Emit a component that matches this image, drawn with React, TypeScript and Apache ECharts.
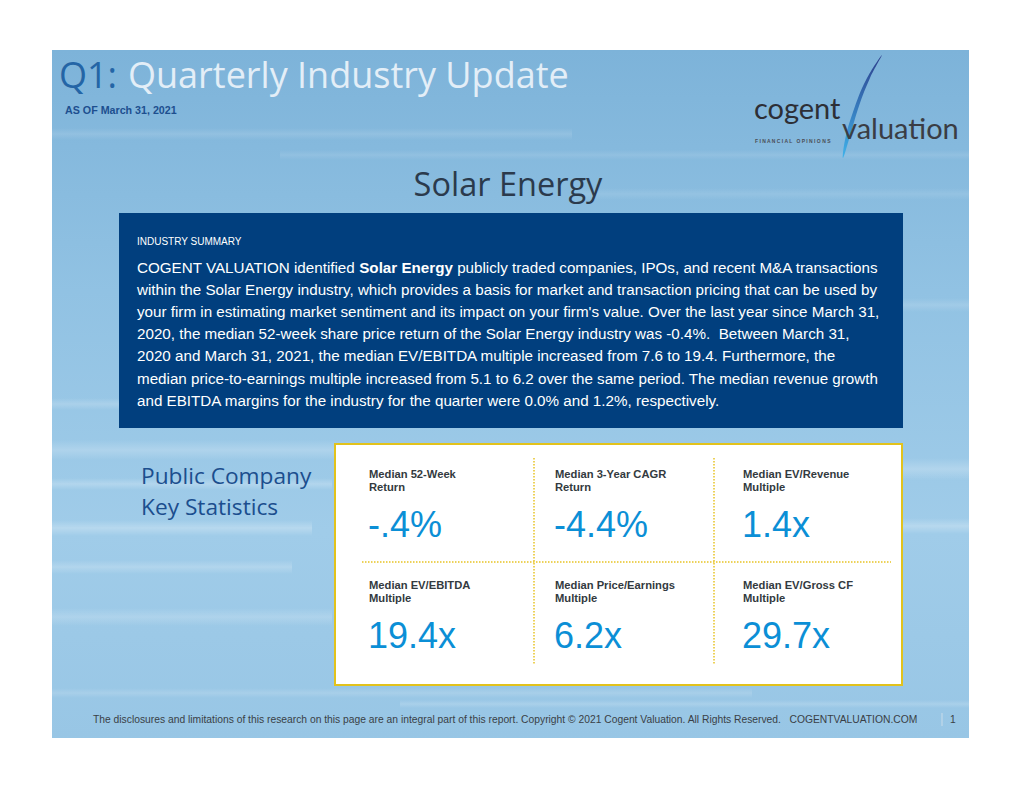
import React, { useEffect, useRef } from "react";
import * as echarts from "echarts";

const titleQuarter = "Q1:";
const titleText = "Quarterly Industry Update";
const asOfText = "AS OF March 31, 2021";
const industryName = "Solar Energy";
const summaryHeading = "INDUSTRY SUMMARY";
const summaryLines = [
  "COGENT VALUATION identified {b|Solar Energy} publicly traded companies, IPOs, and recent M&A transactions",
  "within the Solar Energy industry, which provides a basis for market and transaction pricing that can be used by",
  "your firm in estimating market sentiment and its impact on your firm's value. Over the last year since March 31,",
  "2020, the median 52-week share price return of the Solar Energy industry was -0.4%.  Between March 31,",
  "2020 and March 31, 2021, the median EV/EBITDA multiple increased from 7.6 to 19.4. Furthermore, the",
  "median price-to-earnings multiple increased from 5.1 to 6.2 over the same period. The median revenue growth",
  "and EBITDA margins for the industry for the quarter were 0.0% and 1.2%, respectively.",
];
const sectionTitle = ["Public Company", "Key Statistics"];
const statLabelLine1 = [
  "Median 52-Week",
  "Median 3-Year CAGR",
  "Median EV/Revenue",
  "Median EV/EBITDA",
  "Median Price/Earnings",
  "Median EV/Gross CF",
];
const statLabelLine2 = ["Return", "Return", "Multiple", "Multiple", "Multiple", "Multiple"];
const statValues = ["-.4", "-4.4", "1.4", "19.4", "6.2", "29.7"];
const statUnits = ["%", "%", "x", "x", "x", "x"];
const footerText =
  "The disclosures and limitations of this research on this page are an integral part of this report. Copyright © 2021 Cogent Valuation. All Rights Reserved.   COGENTVALUATION.COM";
const pageNumber = "1";

export default function App() {
  const ref = useRef<HTMLDivElement>(null);
  useEffect(() => {
    if (!ref.current) return;
    const chart = echarts.init(ref.current, null, { renderer: "svg" });
    const els: any[] = [];
    const bodyFont = "'Liberation Sans', Arial, sans-serif";
    const headFont = "'Open Sans', 'Noto Sans', sans-serif";

    // slide background
    els.push({
      type: "rect",
      shape: { x: 52, y: 50, width: 917, height: 688 },
      style: {
        fill: new echarts.graphic.LinearGradient(0, 0, 0, 1, [
          { offset: 0, color: "#7db3d9" },
          { offset: 0.35, color: "#91c2e3" },
          { offset: 0.7, color: "#a0cce9" },
          { offset: 1, color: "#98c6e5" },
        ]),
      },
    });
    // soft streaks
    const streaks = [
      [52, 128, 520, 12, 0.12], [280, 150, 689, 10, 0.1], [52, 440, 300, 20, 0.2],
      [52, 478, 280, 12, 0.22], [52, 520, 260, 16, 0.25], [52, 560, 240, 14, 0.2],
      [52, 608, 280, 18, 0.18], [900, 458, 69, 22, 0.22], [900, 518, 69, 16, 0.25],
      [52, 688, 700, 10, 0.14], [400, 700, 569, 8, 0.16], [52, 398, 70, 12, 0.18],
      [900, 298, 69, 14, 0.14], [580, 188, 389, 12, 0.1],
    ];
    streaks.forEach(([x, y, w, h, o]) =>
      els.push({
        type: "rect",
        shape: { x, y, width: w, height: h },
        style: {
          fill: new echarts.graphic.LinearGradient(0, 0, 0, 1, [
            { offset: 0, color: "rgba(255,255,255,0)" },
            { offset: 0.5, color: `rgba(255,255,255,${o})` },
            { offset: 1, color: "rgba(255,255,255,0)" },
          ]),
        },
      })
    );

    // title
    els.push({
      type: "text",
      style: {
        text: titleQuarter, x: 59, y: 74, textVerticalAlign: "middle",
        font: `36px ${headFont}`, fill: "#2465a6",
      },
    });
    els.push({
      type: "text",
      style: {
        text: titleText, x: 128, y: 74, textVerticalAlign: "middle",
        font: `36px ${headFont}`, fill: "#e3eef7",
      },
    });
    els.push({
      type: "text",
      style: {
        text: asOfText, x: 65, y: 110, textVerticalAlign: "middle",
        font: `bold 10.7px ${bodyFont}`, fill: "#1d4f8f",
      },
    });

    // logo
    els.push({
      type: "polygon",
      shape: {
        points: [[882, 55], [866, 80], [853, 112], [845, 140], [843, 158], [850, 136], [859, 106], [870, 78]],
        smooth: 0.4,
      },
      style: {
        fill: new echarts.graphic.LinearGradient(0, 0, 0, 1, [
          { offset: 0, color: "#2d3f8c" },
          { offset: 1, color: "#3fb2ea" },
        ]),
      },
    });
    els.push({
      type: "text",
      style: {
        text: "cogent", x: 754, y: 107, textVerticalAlign: "middle",
        font: `29px 'Lato', sans-serif`, fill: "#2d2f36",
      },
    });
    els.push({
      type: "text",
      style: {
        text: "valuation", x: 842, y: 127, textVerticalAlign: "middle",
        font: `29px 'Lato', sans-serif`, fill: "#3a3d44",
      },
    });
    els.push({
      type: "text",
      style: {
        text: "F I N A N C I A L   O P I N I O N S", x: 755, y: 141, textVerticalAlign: "middle",
        font: `bold 5px ${bodyFont}`, fill: "#4a4d55",
      },
    });

    // industry title
    els.push({
      type: "text",
      style: {
        text: industryName, x: 508, y: 183, textAlign: "center", textVerticalAlign: "middle",
        font: `32.5px ${headFont}`, fill: "#2b3a4c",
      },
    });

    // summary box
    els.push({
      type: "rect",
      shape: { x: 119, y: 213, width: 784, height: 215 },
      style: { fill: "#013f7e" },
    });
    els.push({
      type: "text",
      style: {
        text: summaryHeading, x: 137, y: 241, textVerticalAlign: "middle",
        font: `10px ${bodyFont}`, fill: "#ffffff",
      },
    });
    summaryLines.forEach((line, i) =>
      els.push({
        type: "text",
        style: {
          text: line, x: 137, y: 267 + i * 22.2, textVerticalAlign: "middle",
          font: `15.2px ${bodyFont}`, fill: "#ffffff",
          rich: { b: { fontWeight: "bold", fontSize: 15.2, fontFamily: bodyFont, fill: "#ffffff" } },
        },
      })
    );

    // section title
    sectionTitle.forEach((t, i) =>
      els.push({
        type: "text",
        style: {
          text: t, x: 141, y: 475 + i * 31, textVerticalAlign: "middle",
          font: `22.7px ${headFont}`, fill: "#1b4e8e",
        },
      })
    );

    // stats box
    els.push({
      type: "rect",
      shape: { x: 335, y: 444, width: 567, height: 241 },
      style: { fill: "#ffffff", stroke: "#e2c21c", lineWidth: 2 },
    });
    const dot = { stroke: "#e8c323", lineWidth: 1.5, lineDash: [1.5, 1.5] };
    els.push({ type: "line", shape: { x1: 362, y1: 562, x2: 891, y2: 562 }, style: dot });
    [534, 714].forEach((x) =>
      els.push({ type: "line", shape: { x1: x, y1: 458, x2: x, y2: 664 }, style: dot })
    );

    const colX = [369, 555, 743];
    const rowY = [474, 585];
    statValues.forEach((v, i) => {
      const x = colX[i % 3];
      const y = rowY[Math.floor(i / 3)];
      els.push({
        type: "text",
        style: {
          text: statLabelLine1[i] + "\n" + statLabelLine2[i], x, y: y - 7, lineHeight: 13,
          font: `bold 11.2px ${bodyFont}`, fill: "#333a40",
        },
      });
      els.push({
        type: "text",
        style: {
          text: v + statUnits[i], x: x - 1, y: y + 50, textVerticalAlign: "middle",
          font: `36px ${bodyFont}`, fill: "#0b8fd6",
        },
      });
    });

    // footer
    els.push({
      type: "text",
      style: {
        text: footerText, x: 93, y: 719, textVerticalAlign: "middle",
        font: `10.3px ${bodyFont}`, fill: "#3a3f46",
      },
    });
    els.push({
      type: "line",
      shape: { x1: 942, y1: 713, x2: 942, y2: 726 },
      style: { stroke: "#c9dcea", lineWidth: 1 },
    });
    els.push({
      type: "text",
      style: {
        text: pageNumber, x: 950, y: 719, textVerticalAlign: "middle",
        font: `10.3px ${bodyFont}`, fill: "#3a3f46",
      },
    });

    chart.setOption({ animation: false, graphic: { elements: els } });
    return () => chart.dispose();
  }, []);
  return (
    <div
      ref={ref}
      style={{ position: "absolute", left: 0, top: 0, width: 1020, height: 788, background: "#ffffff" }}
    />
  );
}
